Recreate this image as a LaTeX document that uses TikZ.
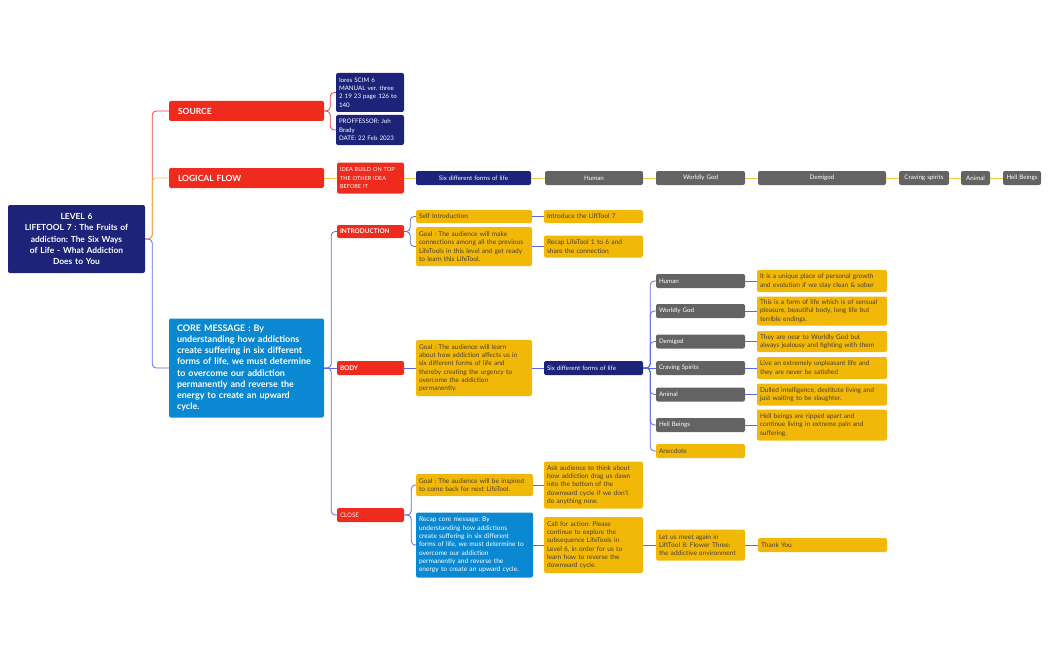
\documentclass[tikz,border=0pt]{standalone}
\usepackage{fontspec}
\setmainfont{Lato}
\usepackage{xcolor}
\frenchspacing

\definecolor{navybox}{HTML}{1C2379}
\definecolor{redbox}{HTML}{EE2B1D}
\definecolor{graybox}{HTML}{636363}
\definecolor{yelbox}{HTML}{F2B807}
\definecolor{bluebox}{HTML}{0A88D2}
\definecolor{redline}{HTML}{E8433A}
\definecolor{yelline}{HTML}{F5C443}
\definecolor{blueline}{HTML}{5A68E6}
\definecolor{txtdark}{HTML}{4A4030}

\begin{document}
\begin{tikzpicture}[x=1pt, y=-1pt,
  box/.style={rectangle, rounded corners=2pt, inner xsep=3pt, inner ysep=0pt,
    align=left, font=\fontsize{6.6}{8.3}\selectfont},
  navyb/.style={box, fill=navybox, text=white, font=\fontsize{6.2}{8.3}\selectfont},
  redb/.style={box, fill=redbox, text=white, font=\fontsize{6.2}{8.3}\selectfont},
  grayb/.style={box, fill=graybox, text=white, font=\fontsize{6.2}{8.3}\selectfont},
  yelb/.style={box, fill=yelbox, text=txtdark},
  blueb/.style={box, fill=bluebox, text=white},
  big/.style={font=\fontsize{9}{11.2}\selectfont\bfseries},
  mid/.style={font=\fontsize{8.5}{10}\selectfont\bfseries},
  tag/.style={font=\fontsize{6.4}{8}\selectfont\bfseries},
  rl/.style={draw=redline, line width=0.8pt, rounded corners=4pt},
  yl/.style={draw=yelline, line width=0.8pt, rounded corners=4pt},
  bl/.style={draw=blueline, line width=0.8pt, rounded corners=4pt}]

\useasboundingbox (0,0) rectangle (1051,650);

% root and first level
\node (root) at (76.5,239) [navyb, font=\fontsize{8.4}{11.3}\selectfont\bfseries, align=center, text width=131pt, minimum height=68pt] {LEVEL 6\\LIFETOOL 7 : The Fruits of\\addiction: The Six Ways\\of Life - What Addiction\\Does to You};
\node (source) at (246.5,111) [redb, mid, inner xsep=9pt, text width=137pt, minimum height=20pt] {SOURCE};
\node (logical) at (246.5,178) [redb, mid, inner xsep=9pt, text width=137pt, minimum height=20pt] {LOGICAL FLOW};
\node (core) at (246.5,368) [blueb, big, inner xsep=8pt, text width=139pt, minimum height=99pt] {CORE MESSAGE : By\\understanding how addictions\\create suffering in six different\\forms of life, we must determine\\to overcome our addiction\\permanently and reverse the\\energy to create an upward\\cycle.};

% source
\node (iores) at (370,92.5) [navyb, text width=62pt, minimum height=39pt] {Iores SCIM 6\\MANUAL ver. three\\2 19 23 page 126 to\\140};
\node (prof) at (370,130) [navyb, text width=62pt, minimum height=30pt] {PROFFESSOR: Joh\\Brady\\DATE: 22 Feb 2023};

% logical flow
\node (idea) at (370.5,178) [redb, font=\fontsize{5.6}{8.3}\selectfont, text width=61pt, minimum height=31pt] {IDEA BUILD ON TOP\\THE OTHER IDEA\\BEFORE IT};
\node (six1) at (473.5,178) [navyb, align=center, text width=109pt, minimum height=14pt] {Six different forms of life};
\node (human1) at (594,178) [grayb, align=center, text width=92pt, minimum height=14pt] {Human};
\node (wgod1) at (700.5,178) [grayb, align=center, text width=83pt, minimum height=14pt] {Worldly God};
\node (demi1) at (822,178) [grayb, align=center, text width=122pt, minimum height=14pt] {Demigod};
\node (crav1) at (924,178) [grayb, align=center, inner xsep=1pt, text width=48pt, minimum height=14pt] {Craving spirits};
\node (anim1) at (975.5,178) [grayb, align=center, inner xsep=1pt, text width=27pt, minimum height=14pt] {Animal};
\node (hell1) at (1022,178) [grayb, align=center, inner xsep=1pt, text width=36pt, minimum height=14pt] {Hell Beings};

% core message parts
\node (intro) at (370.5,231.5) [redb, tag, text width=61pt, minimum height=13pt] {INTRODUCTION};
\node (body) at (370.5,368) [redb, tag, text width=61pt, minimum height=14pt] {BODY};
\node (close) at (370.5,515) [redb, text width=61pt, minimum height=14pt] {CLOSE};

% introduction
\node (selfintro) at (474,216.5) [yelb, text width=110pt, minimum height=13pt] {Self Introduction};
\node (goalintro) at (474,246.5) [yelb, text width=110pt, minimum height=39pt] {Goal : The audience will make\\connections among all the previous\\LifeTools in this level and get ready\\to learn this LifeTool.};
\node (introduce) at (593.5,216.5) [yelb, text width=93pt, minimum height=13pt] {Introduce the LiftTool 7};
\node (recapintro) at (593.5,246.5) [yelb, text width=93pt, minimum height=22pt] {Recap LifeTool 1 to 6 and\\share the connection};

% body
\node (goalbody) at (474,368) [yelb, text width=110pt, minimum height=56pt] {Goal : The audience will learn\\about how addiction affects us in\\six different forms of life and\\thereby creating the urgency to\\overcome the addiction\\permanently.};
\node (six2) at (593.5,368) [navyb, text width=93pt, minimum height=14pt] {Six different forms of life};
\node (human2) at (700.5,281) [grayb, text width=83pt, minimum height=14pt] {Human};
\node (wgod2) at (700.5,311) [grayb, text width=83pt, minimum height=14pt] {Worldly God};
\node (demi2) at (700.5,341.5) [grayb, text width=83pt, minimum height=14pt] {Demigod};
\node (crav2) at (700.5,368) [grayb, text width=83pt, minimum height=14pt] {Craving Spirits};
\node (anim2) at (700.5,394.5) [grayb, text width=83pt, minimum height=14pt] {Animal};
\node (hell2) at (700.5,425) [grayb, text width=83pt, minimum height=14pt] {Hell Beings};
\node (anec) at (700.5,451) [yelb, text width=83pt, minimum height=14pt] {Anecdote};
\node (dhuman) at (822,281) [yelb, text width=124pt, minimum height=22pt] {It is a unique place of personal growth\\and evolution if we stay clean \& sober};
\node (dwgod) at (822,311) [yelb, text width=124pt, minimum height=29pt] {This is a form of life which is of sensual\\pleasure, beautiful body, long life but\\terrible endings.};
\node (ddemi) at (822,341.5) [yelb, text width=124pt, minimum height=21pt] {They are near to Worldly God but\\always jealousy and fighting with them};
\node (dcrav) at (822,368) [yelb, text width=124pt, minimum height=22pt] {Live an extremely unpleasant life and\\they are never be satisfied};
\node (danim) at (822,394.5) [yelb, text width=124pt, minimum height=22pt] {Dulled intelligence, destitute living and\\just waiting to be slaughter.};
\node (dhell) at (822,425) [yelb, text width=124pt, minimum height=31pt] {Hell beings are ripped apart and\\continue living in extreme pain and\\suffering.};

% close
\node (goalclose) at (474.5,485) [yelb, text width=111pt, minimum height=22pt] {Goal : The audience will be inspired\\to come back for next LifeTool.};
\node (ask) at (593.5,485) [yelb, text width=93pt, minimum height=47pt] {Ask audience to think about\\how addiction drag us dawn\\into the bottom of the\\downward cycle if we don't\\do anything now.};
\node (recap) at (474.5,545) [blueb, text width=111pt, minimum height=65pt] {Recap core message: By\\understanding how addictions\\create suffering in six different\\forms of life, we must determine to\\overcome our addiction\\permanently and reverse the\\energy to create an upward cycle.};
\node (call) at (593.5,545) [yelb, text width=93pt, minimum height=56pt] {Call for action: Please\\continue to explore the\\subsequence LifeTools in\\Level 6, in order for us to\\learn how to reverse the\\downward cycle.};
\node (letus) at (700.5,545) [yelb, text width=83pt, minimum height=31pt] {Let us meet again in\\LiftTool 8: Flower Three:\\the addictive environment};
\node (thank) at (822.5,545) [yelb, text width=123pt, minimum height=14pt] {Thank You};

% connectors
\draw [rl] (root.east) -- ++(7,0) |- (source.west);
\draw [yl] (root.east) -- ++(7,0) |- (logical.west);
\draw [bl] (root.east) -- ++(7,0) |- (core.west);

\draw [rl] (source.east) -- ++(6,0) |- (iores.west);
\draw [rl] (source.east) -- ++(6,0) |- (prof.west);

\draw [yl] (logical) -- (idea);
\draw [yl] (idea) -- (six1);
\draw [yl] (six1) -- (human1);
\draw [yl] (human1) -- (wgod1);
\draw [yl] (wgod1) -- (demi1);
\draw [yl] (demi1) -- (crav1);
\draw [yl] (crav1) -- (anim1);
\draw [yl] (anim1) -- (hell1);

\draw [bl] (core.east) -- ++(7,0) |- (intro.west);
\draw [bl] (core) -- (body);
\draw [bl] (core.east) -- ++(7,0) |- (close.west);

\draw [bl] (intro.east) -- ++(6,0) |- (selfintro.west);
\draw [bl] (intro.east) -- ++(6,0) |- (goalintro.west);
\draw [bl] (selfintro) -- (introduce);
\draw [bl] (goalintro) -- (recapintro);

\draw [bl] (body) -- (goalbody);
\draw [bl] (goalbody) -- (six2);
\draw [bl] (six2.east) -- ++(7,0) |- (human2.west);
\draw [bl] (six2.east) -- ++(7,0) |- (wgod2.west);
\draw [bl] (six2.east) -- ++(7,0) |- (demi2.west);
\draw [bl] (six2) -- (crav2);
\draw [bl] (six2.east) -- ++(7,0) |- (anim2.west);
\draw [bl] (six2.east) -- ++(7,0) |- (hell2.west);
\draw [bl] (six2.east) -- ++(7,0) |- (anec.west);
\draw [bl] (human2) -- (dhuman);
\draw [bl] (wgod2) -- (dwgod);
\draw [bl] (demi2) -- (ddemi);
\draw [bl] (crav2) -- (dcrav);
\draw [bl] (anim2) -- (danim);
\draw [bl] (hell2) -- (dhell);

\draw [bl] (close.east) -- ++(7,0) |- (goalclose.west);
\draw [bl] (close.east) -- ++(7,0) |- (recap.west);
\draw [bl] (goalclose) -- (ask);
\draw [bl] (recap) -- (call);
\draw [bl] (call) -- (letus);
\draw [bl] (letus) -- (thank);

\end{tikzpicture}
\end{document}
